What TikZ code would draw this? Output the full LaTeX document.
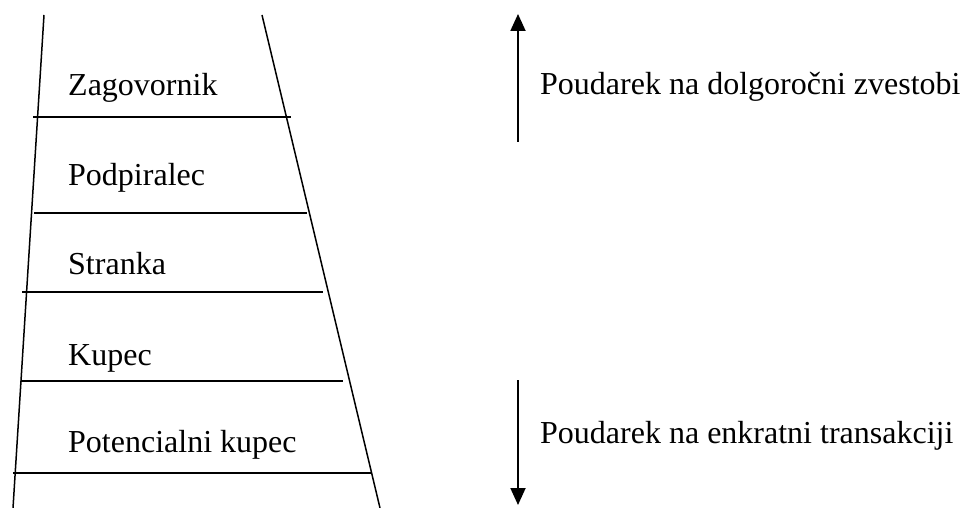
\documentclass[tikz,border=0pt]{standalone}
\usepackage{fontspec}
\setmainfont{Liberation Serif}
\usetikzlibrary{arrows.meta}
\begin{document}
\begin{tikzpicture}[x=1pt,y=-1pt,
  ln/.style={line width=1.5pt, black},
  lbl/.style={anchor=base west, inner sep=0pt, font=\fontsize{32}{36}\selectfont},
  arr/.style={line width=1.8pt, -{Triangle[width=15pt,length=17pt]}}]
\useasboundingbox[fill=white] (0,0) rectangle (961,508);
% ladder sides
\draw[ln] (44,15) -- (13,508);
\draw[ln] (262,15) -- (380,508);
% rungs
\draw[ln] (33,117) -- (291,117);
\draw[ln] (34,213) -- (307,213);
\draw[ln] (22,292) -- (323,292);
\draw[ln] (21,381) -- (343,381);
\draw[ln] (13,473) -- (372,473);
% labels
\node[lbl] (zag) at (68,96) {Zagovornik};
\node[lbl] (pod) at (68,185) {Podpiralec};
\node[lbl] (str) at (68,274) {Stranka};
\node[lbl] (kup) at (68,365) {Kupec};
\node[lbl] (pot) at (68,452) {Potencialni kupec};
\node[lbl] (dol) at (540,95) {Poudarek na dolgoročni zvestobi};
\node[lbl] (enk) at (540,443) {Poudarek na enkratni transakciji};
% arrows
\coordinate (ua) at (518,142);
\coordinate (ub) at (518,14);
\coordinate (da) at (518,380);
\coordinate (db) at (518,505);
\draw[arr] (ua) -- (ub);
\draw[arr] (da) -- (db);
\end{tikzpicture}
\end{document}
